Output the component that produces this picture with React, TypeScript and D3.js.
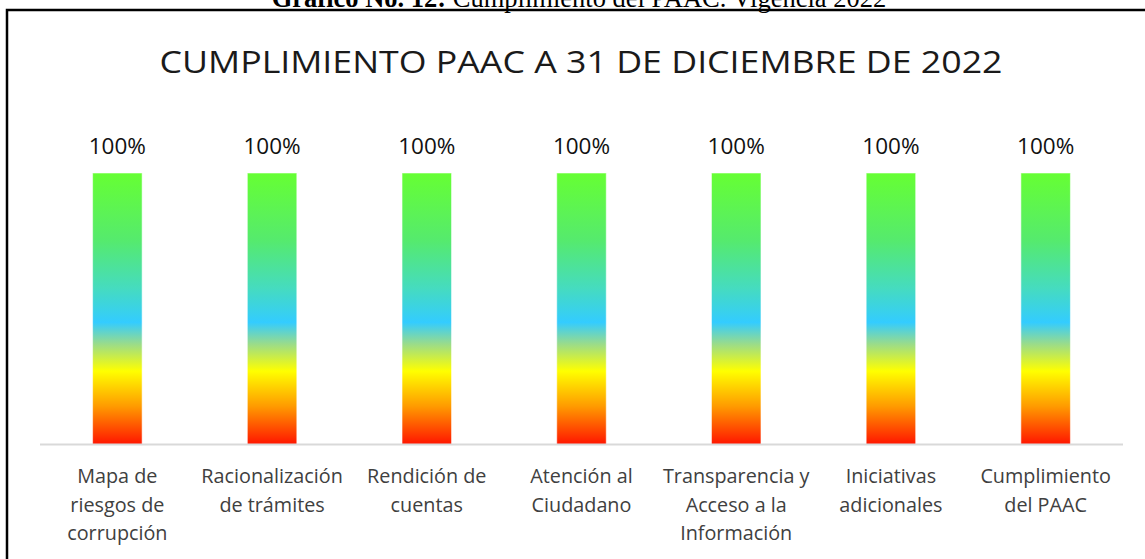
import React, { useEffect, useRef } from "react";
import * as d3 from "d3";

const categories = [
  ["Mapa de", "riesgos de", "corrupción"],
  ["Racionalización", "de trámites"],
  ["Rendición de", "cuentas"],
  ["Atención al", "Ciudadano"],
  ["Transparencia y", "Acceso a la", "Información"],
  ["Iniciativas", "adicionales"],
  ["Cumplimiento", "del PAAC"],
];
const values = [1, 1, 1, 1, 1, 1, 1];
const valueLabels = ["100%", "100%", "100%", "100%", "100%", "100%", "100%"];

const gradientStops = [
  { offset: "0%", color: "#66ff33" },
  { offset: "25%", color: "#55ea6e" },
  { offset: "42%", color: "#46dcbd" },
  { offset: "55%", color: "#33ccff" },
  { offset: "63%", color: "#9adc8a" },
  { offset: "73%", color: "#ffff00" },
  { offset: "86%", color: "#ff9a00" },
  { offset: "100%", color: "#ff1400" },
];

const App = () => {
  const chartRef = useRef(null);

  useEffect(() => {
    const W = 1145;
    const H = 559;
    const left = 40;
    const right = 1123;
    const baseY = 444.5;
    const topY = 173;

    d3.select(chartRef.current).selectAll("*").remove();

    const svg = d3
      .select(chartRef.current)
      .append("svg")
      .attr("width", W)
      .attr("height", H)
      .style("position", "absolute")
      .style("left", "0px")
      .style("top", "0px")
      .style("background", "#fff");

    const grad = svg
      .append("defs")
      .append("linearGradient")
      .attr("id", "barGrad")
      .attr("x1", 0)
      .attr("y1", 0)
      .attr("x2", 0)
      .attr("y2", 1);
    grad
      .selectAll("stop")
      .data(gradientStops)
      .enter()
      .append("stop")
      .attr("offset", (d) => d.offset)
      .attr("stop-color", (d) => d.color);

    // caption sits above the frame, partly off the page like the source
    const cap = svg
      .append("text")
      .attr("x", 579)
      .attr("y", 7)
      .attr("text-anchor", "middle")
      .style("font-family", "'Liberation Serif', 'Times New Roman', serif")
      .style("font-size", "26.5px")
      .style("fill", "#000");
    cap.append("tspan").style("font-weight", "bold").text("Gráfico No. 12:");
    cap.append("tspan").text(" Cumplimiento del PAAC. Vigencia 2022");

    // frame
    svg
      .append("rect")
      .attr("x", 7)
      .attr("y", 10)
      .attr("width", W + 20)
      .attr("height", H + 20)
      .attr("fill", "none")
      .attr("stroke", "#000")
      .attr("stroke-width", 2.5);

    svg
      .append("text")
      .attr("x", 581)
      .attr("y", 73)
      .attr("text-anchor", "middle")
      .attr("textLength", 843)
      .attr("lengthAdjust", "spacingAndGlyphs")
      .style("font-family", "'Open Sans', sans-serif")
      .style("font-size", "31px")
      .style("fill", "#1a1a1a")
      .text("CUMPLIMIENTO PAAC A 31 DE DICIEMBRE DE 2022");

    const idx = categories.map((_, i) => i);

    const xScale = d3
      .scaleBand()
      .domain(idx)
      .range([left, right])
      .paddingInner(0.68)
      .paddingOuter(0.34);

    const yScale = d3.scaleLinear().domain([0, 1]).range([baseY, topY]);

    svg
      .selectAll(".bar")
      .data(values)
      .enter()
      .append("rect")
      .attr("class", "bar")
      .attr("x", (d, i) => xScale(i))
      .attr("y", (d) => yScale(d))
      .attr("width", xScale.bandwidth())
      .attr("height", (d) => baseY - yScale(d))
      .style("fill", "url(#barGrad)")
      .style("stroke", "rgba(255,255,255,0.55)")
      .style("stroke-width", 1);

    svg
      .append("line")
      .attr("x1", left)
      .attr("x2", right)
      .attr("y1", baseY)
      .attr("y2", baseY)
      .attr("stroke", "#d9d9d9")
      .attr("stroke-width", 2);

    svg
      .selectAll(".val")
      .data(values)
      .enter()
      .append("text")
      .attr("class", "val")
      .attr("x", (d, i) => xScale(i) + xScale.bandwidth() / 2)
      .attr("y", (d) => yScale(d) - 19)
      .attr("text-anchor", "middle")
      .style("font-family", "'Open Sans', sans-serif")
      .style("font-size", "22.5px")
      .style("font-weight", 500)
      .style("fill", "#111")
      .text((d, i) => valueLabels[i]);

    const lab = svg
      .selectAll(".cat")
      .data(categories)
      .enter()
      .append("text")
      .attr("class", "cat")
      .attr("text-anchor", "middle")
      .style("font-family", "'Open Sans', sans-serif")
      .style("font-size", "19.8px")
      .style("fill", "#404040");

    lab
      .selectAll("tspan")
      .data((d, i) => d.map((t) => ({ t, i })))
      .enter()
      .append("tspan")
      .attr("x", (d) => xScale(d.i) + xScale.bandwidth() / 2)
      .attr("y", (d, j) => 483 + j * 28.5)
      .text((d) => d.t);
  }, []);

  return <div ref={chartRef} />;
};

export default App;
